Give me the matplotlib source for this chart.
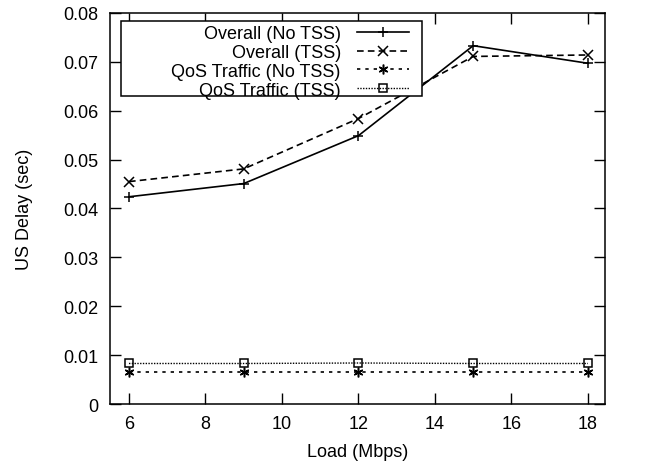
import matplotlib.pyplot as plt
from matplotlib.patches import Rectangle

plt.rcParams['font.family'] = ['Liberation Sans', 'DejaVu Sans']

# Load (Mbps) vs upstream delay (sec)
load = [6, 9, 12, 15, 18]
overall_no_tss = [0.0424, 0.0451, 0.0549, 0.0733, 0.0697]
overall_tss = [0.0455, 0.0481, 0.0584, 0.0711, 0.0714]
qos_no_tss = [0.0066, 0.0066, 0.0066, 0.0066, 0.0066]
qos_tss = [0.0083, 0.0083, 0.0084, 0.0083, 0.0083]

fig = plt.figure(figsize=(6.5, 4.64), dpi=100)
ax = fig.add_axes([0.169, 0.127, 0.762, 0.843])

ax.plot(load, overall_no_tss, '-', color='black', lw=1.2, marker='+', ms=7.5,
        mew=1.1, label='Overall (No TSS)')
ax.plot(load, overall_tss, color='black', lw=1.2, ls=(0, (4, 2.5)), marker='x',
        ms=6.5, mew=1.1, label='Overall (TSS)')
ax.plot(load, qos_no_tss, color='black', lw=1.2, ls=(0, (2, 3)),
        marker=(6, 2, 0), ms=7, mew=1.1, label='QoS Traffic (No TSS)')
ax.plot(load, qos_tss, color='black', lw=1.0, ls=(0, (1, 1)), marker='s',
        ms=6, mfc='none', mew=1.1, label='QoS Traffic (TSS)')

ax.set_xlim(5.5, 18.45)
ax.set_ylim(0, 0.08)
ax.set_xticks([6, 8, 10, 12, 14, 16, 18])
ax.set_yticks([0, 0.01, 0.02, 0.03, 0.04, 0.05, 0.06, 0.07, 0.08])
ax.set_yticklabels(['0', '0.01', '0.02', '0.03', '0.04', '0.05', '0.06',
                    '0.07', '0.08'])
ax.tick_params(direction='in', length=8, width=1, top=True, right=True,
               labelsize=13, pad=8)
for s in ax.spines.values():
    s.set_linewidth(1.1)

ax.set_xlabel('Load (Mbps)', fontsize=13, labelpad=8)
ax.set_ylabel('US Delay (sec)', fontsize=13, labelpad=22)

# gnuplot-style key: labels right-aligned, samples on the right, wide box
ax.add_patch(Rectangle((0.0219, 0.7868), 0.6077, 0.1917, transform=ax.transAxes,
                       facecolor='white', edgecolor='black', lw=1.1, zorder=4))
leg = ax.legend(loc='upper right', bbox_to_anchor=(0.6296, 1.0005),
                borderaxespad=0, markerfirst=False, frameon=False, fontsize=13,
                handlelength=2.9, handletextpad=0.89, labelspacing=0.1,
                borderpad=0.69)
leg.set_zorder(5)

fig.savefig('out.png', dpi=100)
